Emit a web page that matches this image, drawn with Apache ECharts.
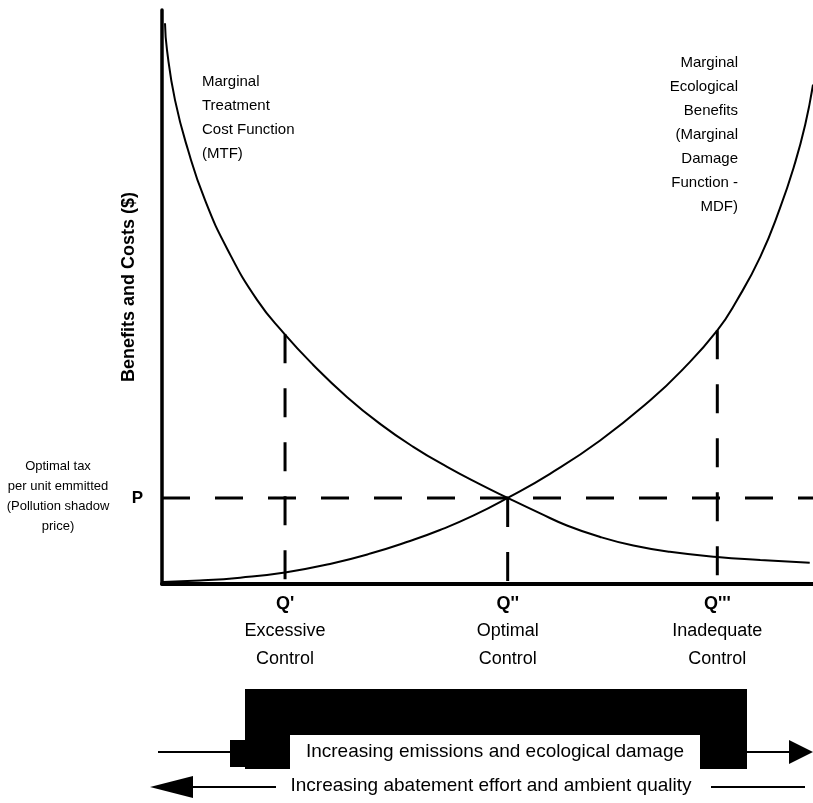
<!DOCTYPE html>
<html><head><meta charset="utf-8">
<script src="https://cdn.jsdelivr.net/npm/echarts@6/dist/echarts.min.js"></script>
<style>html,body{margin:0;padding:0;background:#fff}#c{width:813px;height:803px}</style>
</head><body><div id="c"></div>
<script>
// Marginal Treatment Cost Function (MTF)
const mtfX = [0.46, 0.77, 2.0, 4.0, 6.6, 10.1, 14.6, 18.7, 23.2, 28.4, 33.5, 38.6, 43.8, 48.8, 53.1, 58.1, 62.2, 67.3, 72.4, 78.0, 85.3, 91.9, 99.5];
const mtfY = [97.7, 93.0, 84.3, 75.6, 66.9, 58.2, 49.5, 43.7, 38.2, 32.6, 27.9, 23.9, 20.4, 17.4, 15.0, 12.3, 10.2, 8.2, 6.7, 5.6, 4.7, 4.2, 3.7];
// Marginal Ecological Benefits / Marginal Damage Function (MDF)
const mdfX = [0.15, 5.8, 12.0, 18.9, 25.8, 32.0, 38.1, 42.7, 47.8, 53.1, 59.6, 67.3, 75.0, 80.0, 85.3, 88.3, 91.9, 94.9, 97.2, 98.8, 100];
const mdfY = [0.35, 0.6, 1.1, 2.0, 3.5, 5.3, 7.5, 9.4, 11.9, 15.0, 19.2, 25.0, 32.0, 37.4, 44.2, 49.4, 57.0, 65.4, 73.2, 80.0, 87.0];
// control levels
const qX = [18.9, 53.1, 85.3];
const qTop = [43.5, 15.0, 44.2];
const qNames = ["Q'", "Q''", "Q'''"];
const qLines = [["Excessive", "Control"], ["Optimal", "Control"], ["Inadequate", "Control"]];
const pValue = 15.0;
const pLabel = "P";
const pNote = "Optimal tax\nper unit emmitted\n(Pollution shadow\nprice)";
const yName = "Benefits and Costs ($)";
const mtfLabel = "Marginal\nTreatment\nCost Function\n(MTF)";
const mdfLabel = "Marginal\nEcological\nBenefits\n(Marginal\nDamage\nFunction -\nMDF)";
const arrowTop = "Increasing emissions and ecological damage";
const arrowBottom = "Increasing abatement effort and ambient quality";

const FONT = '"Liberation Sans", Arial, Helvetica, sans-serif';
const zip = (a, b) => a.map((v, i) => [v, b[i]]);

const chart = echarts.init(document.getElementById('c'), null, {renderer: 'canvas'});
const series = [
  {type: 'line', data: zip(mtfX, mtfY), smooth: 0.5, showSymbol: false, lineStyle: {color: '#000', width: 2}, z: 5},
  {type: 'line', data: zip(mdfX, mdfY), smooth: 0.5, showSymbol: false, lineStyle: {color: '#000', width: 2}, z: 5},
  {type: 'line', data: [[0, pValue], [100, pValue]], showSymbol: false, lineStyle: {color: '#000', width: 3, type: [28, 25]}, z: 3}
];
qX.forEach((x, i) => series.push({
  type: 'line', data: [[x, qTop[i]], [x, 0]], showSymbol: false,
  lineStyle: {color: '#000', width: 3, type: [29, 25]}, z: 3
}));

const option = {
  animation: false,
  backgroundColor: '#fff',
  grid: {left: 162, right: 0, top: 10, bottom: 219, containLabel: false},
  xAxis: {
    type: 'value', min: 0, max: 100,
    axisLine: {show: true, onZero: false, lineStyle: {color: '#000', width: 4}},
    axisTick: {show: false}, splitLine: {show: false},
    axisLabel: {
      show: true, customValues: qX, margin: 8,
      formatter: v => { const i = qX.indexOf(v); return i < 0 ? '' : '{q|' + qNames[i] + '}\n{t|' + qLines[i][0] + '}\n{t|' + qLines[i][1] + '}'; },
      rich: {
        q: {fontFamily: FONT, fontWeight: 'bold', fontSize: 18, lineHeight: 25, color: '#000', align: 'center'},
        t: {fontFamily: FONT, fontSize: 18, lineHeight: 28, color: '#000', align: 'center'}
      }
    }
  },
  yAxis: {
    type: 'value', min: 0, max: 100,
    name: yName, nameLocation: 'middle', nameGap: 24, nameMoveOverlap: false,
    nameTextStyle: {fontFamily: FONT, fontWeight: 'bold', fontSize: 18, color: '#000', padding: [0, 0, 0, 20]},
    axisLine: {show: true, onZero: false, lineStyle: {color: '#000', width: 3.5}},
    axisTick: {show: false}, splitLine: {show: false},
    axisLabel: {show: true, customValues: [pValue], margin: 19, formatter: () => pLabel,
      fontFamily: FONT, fontWeight: 'bold', fontSize: 17, color: '#000'}
  },
  series: series,
  graphic: {elements: [
    {id: 'mtf', type: 'text', x: 202, y: 70, style: {text: mtfLabel, font: '15px ' + FONT, lineHeight: 24, fill: '#000'}},
    {id: 'mdf', type: 'text', x: 738, y: 51, style: {text: mdfLabel, font: '15px ' + FONT, lineHeight: 24, fill: '#000', align: 'right'}},
    {id: 'br', type: 'polygon', shape: {points: [[245, 689], [747, 689], [747, 769], [700, 769], [700, 735], [290, 735], [290, 769], [245, 769]]}, style: {fill: '#000'}},
    {id: 'tab', type: 'rect', shape: {x: 230, y: 740, width: 16, height: 27}, style: {fill: '#000'}},
    {id: 'l1', type: 'line', shape: {x1: 158, y1: 752, x2: 231, y2: 752}, style: {stroke: '#000', lineWidth: 2}},
    {id: 'l2', type: 'line', shape: {x1: 746, y1: 752, x2: 791, y2: 752}, style: {stroke: '#000', lineWidth: 2}},
    {id: 'ah1', type: 'polygon', shape: {points: [[789, 740], [813, 752], [789, 764]]}, style: {fill: '#000'}},
    {id: 't1', type: 'text', x: 495, y: 752, style: {text: arrowTop, font: '19px ' + FONT, fill: '#000', align: 'center', verticalAlign: 'middle'}},
    {id: 'ah2', type: 'polygon', shape: {points: [[150, 787], [193, 776], [193, 798]]}, style: {fill: '#000'}},
    {id: 'l3', type: 'line', shape: {x1: 191, y1: 787, x2: 276, y2: 787}, style: {stroke: '#000', lineWidth: 2}},
    {id: 'l4', type: 'line', shape: {x1: 711, y1: 787, x2: 805, y2: 787}, style: {stroke: '#000', lineWidth: 2}},
    {id: 't2', type: 'text', x: 491, y: 786, style: {text: arrowBottom, font: '19px ' + FONT, fill: '#000', align: 'center', verticalAlign: 'middle'}}
  ]}
};
chart.setOption(option);
const pPix = chart.convertToPixel({gridIndex: 0}, [0, pValue]);
chart.setOption({graphic: {elements: [
  {id: 'pnote', type: 'text', x: pPix[0] - 104, y: pPix[1] - 1,
   style: {text: pNote, font: '13px ' + FONT, lineHeight: 20, fill: '#000', align: 'center', verticalAlign: 'middle'}}
]}});
</script>
</body></html>
